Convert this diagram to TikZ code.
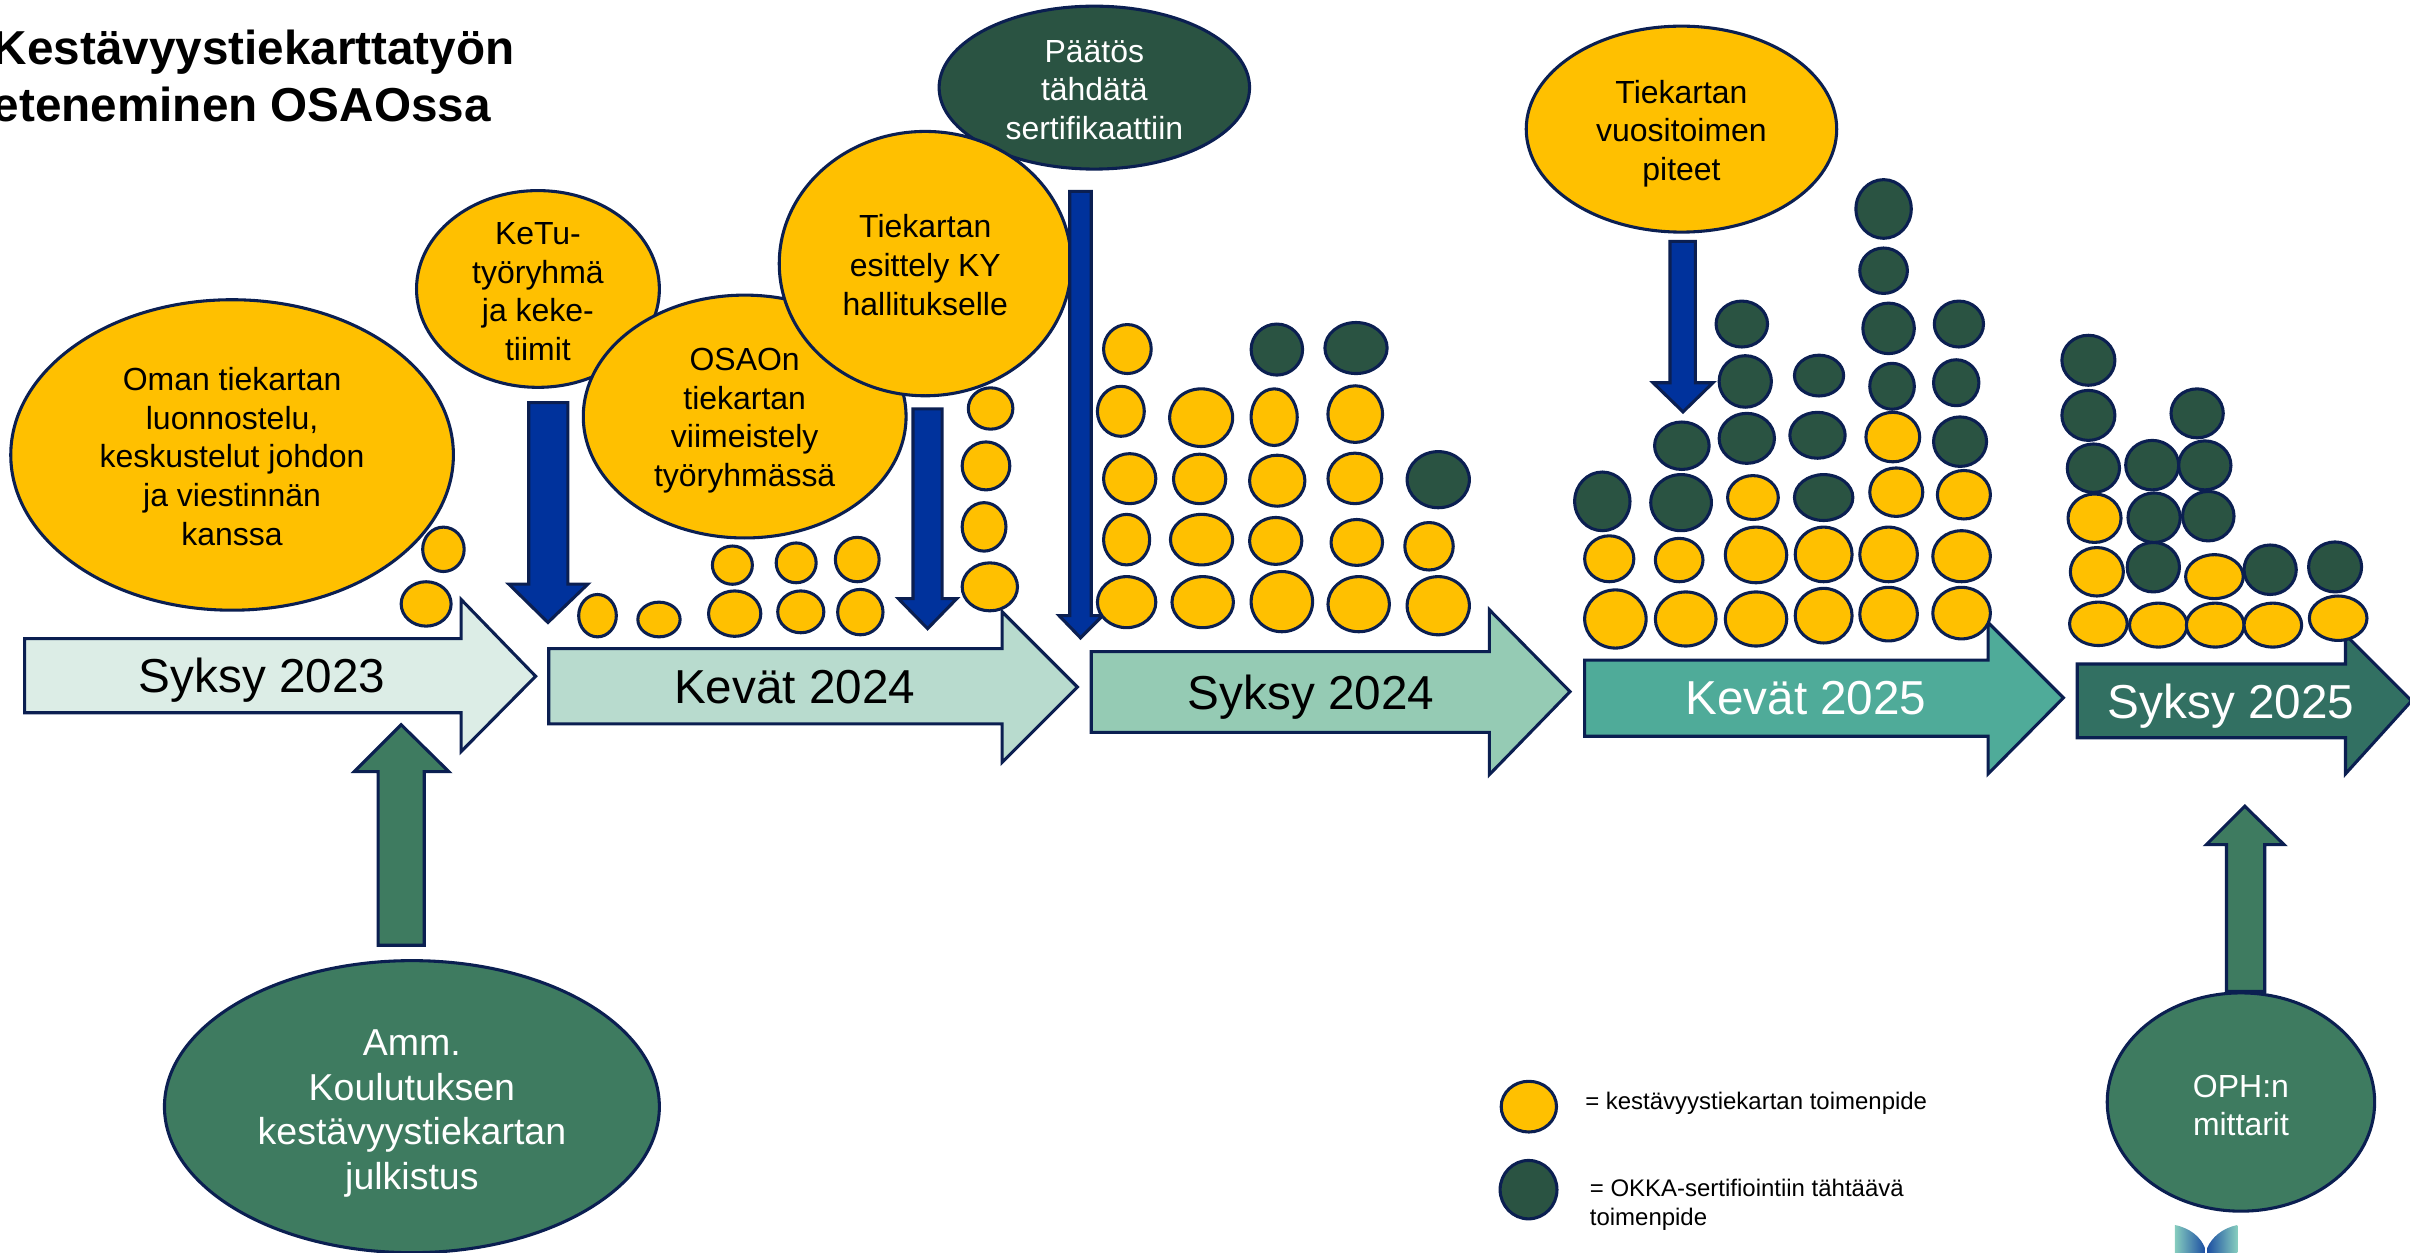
\documentclass[tikz,border=0pt]{standalone}
\usepackage{fontspec}
\setmainfont{Liberation Sans}
\usetikzlibrary{shapes.geometric}
\definecolor{navy}{HTML}{0B1F51}
\definecolor{yel}{HTML}{FFC000}
\definecolor{dk}{HTML}{2A5342}
\definecolor{grn}{HTML}{3E7B60}
\definecolor{blu}{HTML}{00329C}
\definecolor{aA}{HTML}{DCEDE6}
\definecolor{aB}{HTML}{B8DBCE}
\definecolor{aC}{HTML}{95CBB4}
\definecolor{aD}{HTML}{4FAB99}
\definecolor{aE}{HTML}{327062}
\definecolor{lgT}{HTML}{86CDBE}
\definecolor{lgB}{HTML}{1D4FA3}
\newcommand{\tstrut}[1]{\rule{0pt}{#1}}
\tikzset{
  shapeline/.style={draw=navy,line width=1pt,line join=miter},
  bubble/.style={shape=ellipse,shapeline,inner sep=-8pt,align=center},
  yb/.style={bubble,fill=yel,text=black,font=\fontsize{10.4}{12.55}\selectfont},
  gb/.style={bubble,fill=grn,text=white},
  db/.style={bubble,fill=dk,text=white,font=\fontsize{10.4}{12.55}\selectfont},
  ydot/.style={shapeline,fill=yel},
  ddot/.style={shapeline,fill=dk},
  seasonlabel/.style={font=\fontsize{15.5}{18}\selectfont,inner sep=0pt},
  downarrow/.style={shapeline,fill=blu},
  uparrow/.style={shapeline,fill=grn},
  legendtext/.style={font=\fontsize{7.8}{9.5}\selectfont,inner sep=0pt,align=left,anchor=west},
  titletext/.style={font=\fontsize{15.5}{18.5}\bfseries\selectfont,inner sep=0pt,align=left,anchor=base west},
}
\newcommand{\seasonarrow}[9]{\draw[shapeline,fill=#1] (#2,#3)--(#4,#3)--(#4,#6)--(#8,#9)--(#4,#7)--(#4,#5)--(#2,#5)--cycle;}
\newcommand{\blockdown}[8]{\draw[downarrow] (#1,#3)--(#2,#3)--(#2,#4)--(#6,#4)--(#7,#8)--(#5,#4)--(#1,#4)--cycle;}
\newcommand{\blockup}[8]{\draw[uparrow] (#1,#3)--(#2,#3)--(#2,#4)--(#6,#4)--(#7,#8)--(#5,#4)--(#1,#4)--cycle;}
\begin{document}
\begin{tikzpicture}[x=0.5pt,y=-0.5pt]
\useasboundingbox (0,0) rectangle (1568,815.2);
% season arrows
\seasonarrow{aA}{16}{415.5}{300}{463.7}{390}{489}{348.5}{440}
\seasonarrow{aB}{357}{422}{652}{471}{398}{496}{701}{447}
\seasonarrow{aC}{710}{424}{969}{476.5}{396.7}{504}{1021.5}{450}
\seasonarrow{aD}{1031}{429.5}{1293.5}{479}{405}{503.5}{1342.5}{454}
\seasonarrow{aE}{1351.5}{432}{1526}{480}{413}{503.5}{1569}{456}
\node[seasonlabel,text=black] (s23) at (170.5,442.5) {Syksy 2023};
\node[seasonlabel,text=black] (k24) at (517,447) {Kevät 2024};
\node[seasonlabel,text=black] (s24) at (853,453.5) {Syksy 2024};
\node[seasonlabel,text=white] (k25) at (1175,454.5) {Kevät 2025};
\node[seasonlabel,text=white] (s25) at (1451.5,459.5) {Syksy 2025};
% up arrows
\blockup{246}{276}{615}{502}{230.5}{292}{261}{471.5}
\blockup{1448.6}{1473.5}{645}{549.5}{1435.5}{1486}{1460.5}{524.5}
% down arrows
\blockdown{344}{369.5}{262}{380}{331}{382.5}{356.5}{405}
\blockdown{594}{613}{266}{389.5}{584.5}{622.5}{603.5}{409}
\blockdown{1086.5}{1103}{157}{249}{1075.5}{1114.5}{1095}{268}
% large bubbles
\node[db,minimum width=101pt,minimum height=53pt] (paatos) at (712,57) {\tstrut{8.7pt}Päätös\\tähdätä\\sertifikaattiin};
\node[yb,minimum width=144pt,minimum height=101pt] (oman) at (151,296) {\tstrut{8.5pt}Oman tiekartan\\luonnostelu,\\keskustelut johdon\\ja viestinnän\\kanssa};
\node[yb,minimum width=79pt,minimum height=64pt] (ketu) at (350,188) {\tstrut{9pt}KeTu-\\työryhmä\\ja keke-\\tiimit};
\node[yb,minimum width=105pt,minimum height=79pt] (osaon) at (484.5,271) {\tstrut{10pt}OSAOn\\tiekartan\\viimeistely\\työryhmässä};
\node[yb,minimum width=95pt,minimum height=86pt] (esittely) at (602,171.5) {\tstrut{8.5pt}Tiekartan\\esittely KY\\hallitukselle};
\node[yb,minimum width=101pt,minimum height=67pt] (piteet) at (1094,84) {\tstrut{10.5pt}Tiekartan\\vuositoimen\\piteet};
\node[gb,font=\fontsize{12.2}{14.5}\selectfont,minimum width=161pt,minimum height=95pt] (amm) at (268,720) {\tstrut{12.7pt}Amm.\\Koulutuksen\\kestävyystiekartan\\julkistus};
\node[gb,font=\fontsize{10.4}{12.55}\selectfont,minimum width=87pt,minimum height=71pt] (oph) at (1458,717) {\tstrut{9.5pt}OPH:n\\mittarit};
\blockdown{696}{710}{124.5}{400.5}{689}{717.5}{703}{415}
% small dots, coordinates in zoom units
\begin{scope}[x=0.25pt,y=-0.166pt]
\foreach \a/\b/\c/\d in {550/604/1033/1120,522/587/1140/1227,753/802/1165/1248,830/885/1180/1248,922/990/1158/1247,927/979/1070/1145,1012/1072/1158/1240,1010/1062/1064/1142,1090/1149/1155/1244,1087/1144/1053/1140,1252/1324/1103/1197,1252/1309/985/1080,1252/1314/866/960,1260/1318/760/841,1428/1504/1130/1230,1436/1496/1008/1107,1436/1504/889/987,1428/1489/757/855,1436/1498/636/732,1525/1605/1130/1230,1523/1604/1008/1107,1527/1595/890/987,1522/1604/762/875}
  \draw[ydot] ({(\a+\b)/2},{(\c+\d)/2}) ellipse [x radius={(\b-\a)/2},y radius={(\d-\c)/2}];
\end{scope}
\begin{scope}[x=0.25pt,y=-0.166pt,xshift=392pt]
\foreach \a/\b/\c/\d in {60/140/1120/1238,58/126/1014/1106,58/130/892/992,60/120/762/873,160/240/1130/1238,164/231/1018/1108,160/230/888/987,160/231/756/867,263/344/1130/1244,260/323/1024/1117,494/574/1156/1270,494/558/1050/1140,586/665/1160/1266,586/648/1055/1140,677/757/1160/1266,677/757/1033/1142,680/746/932/1018,768/842/1153/1260,768/842/1033/1140,852/927/1151/1256,852/927/1033/1140,865/934/917/1012,860/930/808/905,947/1022/1151/1252,947/1022/1040/1140,953/1022/922/1017,1125/1200/1180/1265,1126/1195/1073/1168,1123/1192/968/1063,1203/1278/1182/1268,1277/1352/1182/1268,1276/1351/1087/1173,1352/1427/1182/1268,1437/1512/1168/1255}
  \draw[ydot] ({(\a+\b)/2},{(\c+\d)/2}) ellipse [x radius={(\b-\a)/2},y radius={(\d-\c)/2}];
\foreach \a/\b/\c/\d in {60/127/635/735,156/237/632/732,263/344/885/995,481/553/925/1040,580/659/930/1040,585/656/827/920,669/741/810/908,669/737/697/798,665/732/590/680,767/843/930/1020,761/833/808/898,767/831/696/776,865/923/712/802,856/923/594/693,852/914/486/575,847/919/352/467,948/1017/817/914,948/1007/705/795,949/1013/590/680,1122/1190/870/965,1115/1184/765/863,1115/1184/657/755,1200/1268/1063/1160,1201/1269/966/1063,1198/1267/863/960,1272/1339/963/1060,1267/1335/864/960,1257/1325/762/858,1352/1420/1068/1165,1436/1505/1062/1160}
  \draw[ddot] ({(\a+\b)/2},{(\c+\d)/2}) ellipse [x radius={(\b-\a)/2},y radius={(\d-\c)/2}];
\end{scope}
% title
\node[titletext] (t1) at (-5,42) {Kestävyystiekarttatyön};
\node[titletext] (t2) at (-5,79) {eteneminen OSAOssa};
% legend
\node[bubble,fill=yel,minimum width=18pt,minimum height=16.5pt] (ly) at (994.7,720) {};
\node[bubble,fill=dk,minimum width=18.5pt,minimum height=19pt] (ld) at (994.5,774) {};
\node[legendtext] (lt1) at (1031,718) {= kestävyystiekartan toimenpide};
\node[legendtext] (lt2) at (1034,784) {= OKKA-sertifiointiin tähtäävä\\toimenpide};
% logo
\shade[left color=lgT,right color=lgB] (1415,797) .. controls (1425,799) and (1432,805) .. (1434.6,812) -- (1434.6,815.2) -- (1415,815.2) -- cycle;
\shade[left color=lgB,right color=lgT] (1455.6,797) .. controls (1446,799) and (1439,805) .. (1436,812) -- (1436,815.2) -- (1455.6,815.2) -- cycle;
\end{tikzpicture}
\end{document}
